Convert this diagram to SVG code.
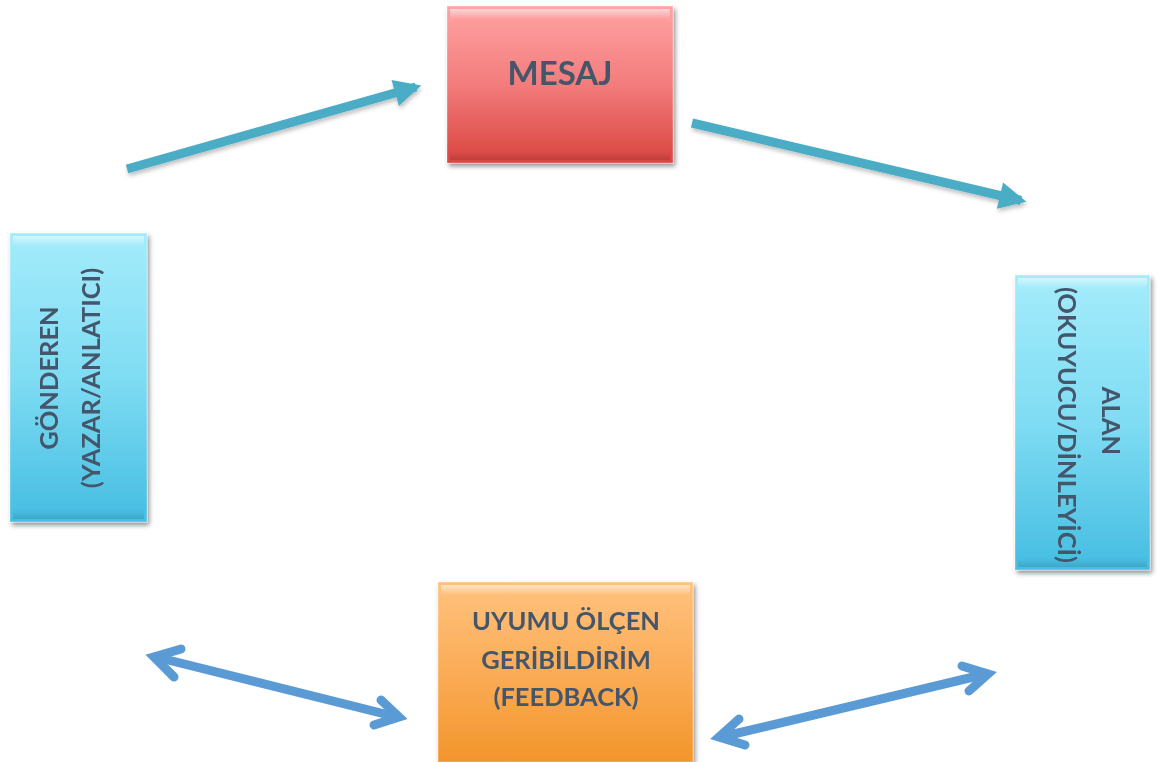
<svg xmlns="http://www.w3.org/2000/svg" width="1159" height="762" viewBox="0 0 1159 762">
  <defs>
    <linearGradient id="gRed" x1="0" y1="0" x2="0" y2="1">
      <stop offset="0" stop-color="#ffa3a3"/>
      <stop offset="0.5" stop-color="#f37c7c"/>
      <stop offset="1" stop-color="#d9443f"/>
    </linearGradient>
    <linearGradient id="gCyan" x1="0" y1="0" x2="0" y2="1">
      <stop offset="0" stop-color="#a4ecfb"/>
      <stop offset="0.5" stop-color="#7fdcf3"/>
      <stop offset="1" stop-color="#45bde2"/>
    </linearGradient>
    <linearGradient id="gOrange" x1="0" y1="0" x2="0" y2="1">
      <stop offset="0" stop-color="#ffc27e"/>
      <stop offset="0.5" stop-color="#fbac56"/>
      <stop offset="1" stop-color="#f3952c"/>
    </linearGradient>
    <linearGradient id="bevelTop" x1="0" y1="0" x2="0" y2="1">
      <stop offset="0" stop-color="#ffffff" stop-opacity="0.55"/>
      <stop offset="1" stop-color="#ffffff" stop-opacity="0"/>
    </linearGradient>
    <linearGradient id="bevelBottom" x1="0" y1="0" x2="0" y2="1">
      <stop offset="0" stop-color="#000000" stop-opacity="0"/>
      <stop offset="1" stop-color="#000000" stop-opacity="0.12"/>
    </linearGradient>
    <filter id="shadow" x="-10%" y="-10%" width="125%" height="125%">
      <feGaussianBlur in="SourceAlpha" stdDeviation="2.5"/>
      <feOffset dx="2" dy="3" result="b"/>
      <feComponentTransfer><feFuncA type="linear" slope="0.45"/></feComponentTransfer>
      <feMerge><feMergeNode/><feMergeNode in="SourceGraphic"/></feMerge>
    </filter>
    <filter id="lineShadow" x="-10%" y="-50%" width="120%" height="200%">
      <feGaussianBlur in="SourceAlpha" stdDeviation="2"/>
      <feOffset dx="1" dy="3"/>
      <feComponentTransfer><feFuncA type="linear" slope="0.25"/></feComponentTransfer>
      <feMerge><feMergeNode/><feMergeNode in="SourceGraphic"/></feMerge>
    </filter>
    <marker id="solidHead" viewBox="0 0 10 10" refX="8" refY="5" markerWidth="3.2" markerHeight="3" orient="auto" markerUnits="strokeWidth">
      <path d="M0,0 L10,5 L0,10 Z" fill="#4bacc6"/>
    </marker>
  </defs>
  <style>
    .lbl { font-family: Lato, "Open Sans", "Liberation Sans", sans-serif; font-weight: 700; fill: #44546a; }
    .frame { stroke: #ffffff; stroke-opacity: 0.35; stroke-width: 1; }
    .flow { fill: none; stroke: #4bacc6; stroke-width: 9; }
    .fb { fill: none; stroke: #5b9bd5; stroke-width: 9; stroke-linecap: round; stroke-linejoin: miter; stroke-miterlimit: 6; }
  </style>

  <!-- message -->
  <g id="mesaj" filter="url(#shadow)">
    <rect x="447" y="6" width="226" height="157" fill="url(#gRed)" class="frame"/>
    <rect x="450" y="9" width="220" height="10" fill="url(#bevelTop)"/>
    <rect x="450" y="151" width="220" height="9" fill="url(#bevelBottom)"/>
    <text class="lbl" x="560" y="85" font-size="33" text-anchor="middle">MESAJ</text>
  </g>

  <!-- sender -->
  <g id="gonderen" filter="url(#shadow)">
    <rect x="10" y="233" width="137" height="289" fill="url(#gCyan)" class="frame"/>
    <rect x="13" y="236" width="131" height="10" fill="url(#bevelTop)"/>
    <rect x="13" y="510" width="131" height="9" fill="url(#bevelBottom)"/>
    <g transform="translate(78,378) rotate(-90)">
      <text class="lbl" x="0" y="-20" font-size="25.5" text-anchor="middle">GÖNDEREN</text>
      <text class="lbl" x="0" y="22" font-size="25.5" text-anchor="middle">(YAZAR/ANLATICI)</text>
    </g>
  </g>

  <!-- receiver -->
  <g id="alan" filter="url(#shadow)">
    <rect x="1015" y="275" width="135" height="295" fill="url(#gCyan)" class="frame"/>
    <rect x="1018" y="278" width="129" height="10" fill="url(#bevelTop)"/>
    <rect x="1018" y="558" width="129" height="9" fill="url(#bevelBottom)"/>
    <g transform="translate(1090,423) rotate(90)">
      <text class="lbl" x="-2" y="-12" font-size="25.5" text-anchor="middle">ALAN</text>
      <text class="lbl" x="2" y="32" font-size="25.5" text-anchor="middle">(OKUYUCU/DİNLEYİCİ)</text>
    </g>
  </g>

  <!-- feedback -->
  <g id="geribildirim" filter="url(#shadow)">
    <rect x="438" y="582" width="255" height="180" fill="url(#gOrange)" class="frame"/>
    <rect x="441" y="585" width="249" height="10" fill="url(#bevelTop)"/>
    <text class="lbl" x="566" y="630" font-size="25.5" text-anchor="middle">UYUMU ÖLÇEN</text>
    <text class="lbl" x="566" y="669" font-size="25.5" text-anchor="middle">GERİBİLDİRİM</text>
    <text class="lbl" x="566" y="706" font-size="25.5" text-anchor="middle">(FEEDBACK)</text>
  </g>

  <!-- connectors -->
  <g id="connectors">
    <g filter="url(#lineShadow)">
      <line class="flow" x1="127" y1="169" x2="416" y2="87" marker-end="url(#solidHead)"/>
      <line class="flow" x1="692" y1="123" x2="1021" y2="200.5" marker-end="url(#solidHead)"/>
    </g>
    <!-- feedback loop, sender side -->
    <line class="fb" x1="156" y1="657" x2="397" y2="717"/>
    <polyline class="fb" points="181,649 154,657 174,677"/>
    <polyline class="fb" points="381,700 399,717 374,725"/>
    <!-- feedback loop, receiver side -->
    <line class="fb" x1="721" y1="737" x2="986" y2="674"/>
    <polyline class="fb" points="739,719 719,737 745,745"/>
    <polyline class="fb" points="962,666 988,674 969,691"/>
  </g>
</svg>
